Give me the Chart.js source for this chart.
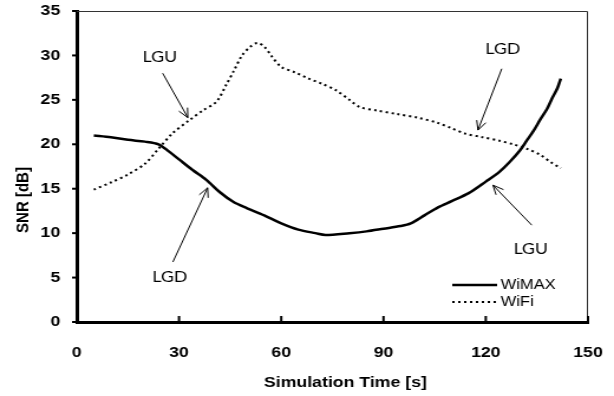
<!DOCTYPE html>
<html>
<head>
<meta charset="utf-8">
<script src="https://cdn.jsdelivr.net/npm/chart.js@4.4.1/dist/chart.umd.min.js"></script>
<style>
    html, body { margin: 0; padding: 0; background: #fff; }
</style>
</head>
<body>
<!-- the original figure is a little stretched sideways, so draw narrower and widen it -->
<canvas id="snrChart" width="520" height="396" style="display:block;width:614px;height:396px"></canvas>
<script>
// Data
const seriesNames = ['WiMAX', 'WiFi'];

const wimaxTime = [5, 10, 15, 20, 24, 27, 30, 34, 38, 42, 46, 50, 55, 60, 65, 70, 73, 80, 85, 90, 95, 98, 102, 106, 110, 115, 120, 124, 127, 130, 132, 134, 136, 138, 139.5, 141, 142];
const wimaxSnr = [21.0, 20.8, 20.5, 20.3, 20.0, 19.2, 18.3, 17.1, 16.0, 14.6, 13.5, 12.8, 12.0, 11.1, 10.4, 10.0, 9.8, 10.0, 10.2, 10.5, 10.8, 11.1, 12.0, 12.9, 13.6, 14.5, 15.8, 16.9, 18.0, 19.3, 20.4, 21.5, 22.8, 24.0, 25.2, 26.3, 27.4];

const wifiTime = [5, 10, 15, 20, 24, 28, 33, 37, 41, 44, 46, 48.5, 51, 53, 55, 57, 60, 64, 68, 72, 76, 80, 83, 88, 94, 100, 106, 110, 114, 119, 124, 128, 132, 136, 139, 142];
const wifiSnr = [14.9, 15.7, 16.6, 17.8, 19.5, 21.2, 22.7, 23.8, 24.8, 26.8, 28.2, 30.0, 31.0, 31.4, 31.0, 30.0, 28.7, 28.1, 27.4, 26.8, 26.1, 25.0, 24.2, 23.8, 23.4, 23.0, 22.4, 21.8, 21.2, 20.8, 20.4, 20.0, 19.5, 18.8, 18.0, 17.3];

const xTicks = [0, 30, 60, 90, 120, 150];
const yTicks = [0, 5, 10, 15, 20, 25, 30, 35];

const xTitle = 'Simulation Time [s]';
const yTitle = 'SNR [dB]';

// handover notes, in data units: label, label position, arrow start, arrow tip
const noteLabels = ['LGU', 'LGD', 'LGD', 'LGU'];
const noteAt = [[24.4, 29.8], [125, 30.7], [27.3, 5.1], [133.2, 8.2]];
const noteFrom = [[25.2, 28.0], [124.7, 28.5], [28.2, 6.75], [133.5, 10.9]];
const noteTo = [[32.6, 23.0], [117.7, 21.6], [38.4, 15.1], [122.1, 15.4]];

const toPoints = (xs, ys) => xs.map((t, i) => ({ x: t, y: ys[i] }));

function drawArrow(ctx, x0, y0, x1, y1) {
    const ang = Math.atan2(y1 - y0, x1 - x0);
    const head = 10, spread = 0.42;
    ctx.beginPath();
    ctx.moveTo(x0, y0);
    ctx.lineTo(x1, y1);
    ctx.moveTo(x1 - head * Math.cos(ang - spread), y1 - head * Math.sin(ang - spread));
    ctx.lineTo(x1, y1);
    ctx.lineTo(x1 - head * Math.cos(ang + spread), y1 - head * Math.sin(ang + spread));
    ctx.stroke();
}

const extrasPlugin = {
    id: 'extras',
    afterDraw(chart) {
        const { ctx, chartArea: a, scales: { x, y } } = chart;
        ctx.save();

        // thin frame on top and right
        ctx.strokeStyle = '#333';
        ctx.lineWidth = 1;
        ctx.beginPath();
        ctx.moveTo(a.left, a.top + 0.5);
        ctx.lineTo(a.right - 0.5, a.top + 0.5);
        ctx.lineTo(a.right - 0.5, a.bottom);
        ctx.stroke();

        // tick marks: inward on x, outward on y
        ctx.strokeStyle = '#000';
        ctx.lineWidth = 2;
        xTicks.forEach(v => {
            if (v === 0) return;
            const px = x.getPixelForValue(v);
            ctx.beginPath();
            ctx.moveTo(px, a.bottom);
            ctx.lineTo(px, a.bottom - 6);
            ctx.stroke();
        });
        yTicks.forEach(v => {
            const py = y.getPixelForValue(v);
            ctx.beginPath();
            ctx.moveTo(a.left - 4, py);
            ctx.lineTo(a.left, py);
            ctx.stroke();
        });

        // axis titles
        ctx.fillStyle = '#000';
        ctx.font = 'bold 15px "Liberation Sans", Arial, sans-serif';
        ctx.textAlign = 'center';
        ctx.textBaseline = 'middle';
        ctx.fillText(xTitle, (a.left + a.right) / 2 + 11, 383);
        ctx.save();
        ctx.translate(20, a.bottom - 122);
        ctx.rotate(-Math.PI / 2);
        ctx.fillText(yTitle, 0, 0);
        ctx.restore();

        // notes with arrows
        ctx.lineWidth = 1;
        ctx.font = '15px Lato, "Open Sans", sans-serif';
        noteLabels.forEach((label, i) => {
            ctx.fillText(label, x.getPixelForValue(noteAt[i][0]), y.getPixelForValue(noteAt[i][1]));
            drawArrow(ctx,
                x.getPixelForValue(noteFrom[i][0]), y.getPixelForValue(noteFrom[i][1]),
                x.getPixelForValue(noteTo[i][0]), y.getPixelForValue(noteTo[i][1]));
        });

        // legend in the lower right of the plot
        ctx.font = '14px "Liberation Sans", Arial, sans-serif';
        ctx.textAlign = 'left';
        chart.data.datasets.forEach((ds, i) => {
            const ly = a.bottom - 37 + i * 17;
            const lx = a.right - 115;
            ctx.strokeStyle = ds.borderColor;
            ctx.lineWidth = ds.borderWidth;
            ctx.setLineDash(ds.borderDash || []);
            ctx.beginPath();
            ctx.moveTo(lx, ly);
            ctx.lineTo(lx + 38, ly);
            ctx.stroke();
            ctx.setLineDash([]);
            ctx.fillText(ds.label, lx + 41, ly);
        });

        ctx.restore();
    }
};

const tickFont = { family: '"Liberation Sans", Arial, sans-serif', size: 15, weight: 'bold' };

new Chart(document.getElementById('snrChart'), {
    type: 'line',
    data: {
        datasets: [
            {
                label: seriesNames[0],
                data: toPoints(wimaxTime, wimaxSnr),
                borderColor: '#000',
                borderWidth: 2.5,
                pointRadius: 0,
                tension: 0.3,
                fill: false
            },
            {
                label: seriesNames[1],
                data: toPoints(wifiTime, wifiSnr),
                borderColor: '#000',
                borderWidth: 2,
                borderDash: [2, 3],
                pointRadius: 0,
                tension: 0.3,
                fill: false
            }
        ]
    },
    options: {
        responsive: false,
        animation: false,
        layout: { padding: { top: 11, right: 22, left: 0, bottom: 0 } },
        plugins: {
            legend: { display: false },
            tooltip: { enabled: false }
        },
        scales: {
            x: {
                type: 'linear',
                min: xTicks[0],
                max: xTicks[xTicks.length - 1],
                grid: { display: false, drawTicks: false },
                border: { display: true, color: '#000', width: 3 },
                ticks: { stepSize: 30, color: '#000', font: tickFont, padding: 22, maxRotation: 0 },
                afterFit: s => {
                    s.height = 74;
                    s.paddingLeft = 0;
                    s.paddingRight = 0;
                }
            },
            y: {
                min: yTicks[0],
                max: yTicks[yTicks.length - 1],
                grid: { display: false, drawTicks: false },
                border: { display: true, color: '#000', width: 3 },
                ticks: { stepSize: 5, color: '#000', font: tickFont, padding: 14 },
                afterFit: s => {
                    s.width = 65;
                    s.paddingTop = 0;
                    s.paddingBottom = 0;
                }
            }
        }
    },
    plugins: [extrasPlugin]
});
</script>
</body>
</html>
